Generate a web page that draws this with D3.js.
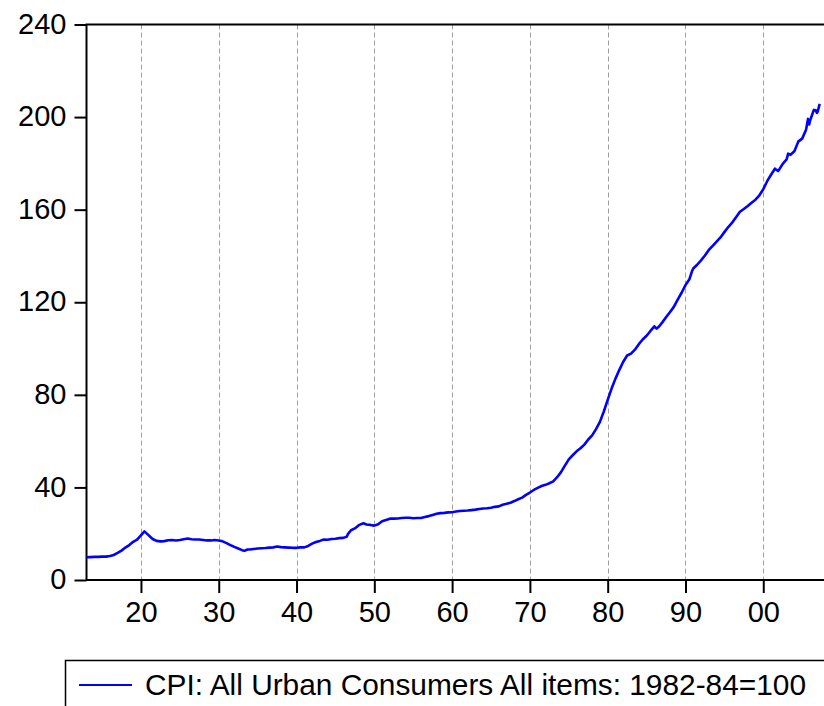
<!DOCTYPE html>
<html>
<head>
<meta charset="utf-8">
<script src="https://cdn.jsdelivr.net/npm/d3@7"></script>
<style>
  body { margin: 0; background: #fff; }
  svg { display: block; }
  text { font-family: "Liberation Sans", Arial, sans-serif; fill: #000; }
</style>
</head>
<body>
<div id="chart"></div>
<script>

// data (CPI-U, 1982-84=100)
var years = [
  1913.0, 1913.5, 1914.0, 1914.5, 1915.0, 1915.5, 1916.0, 1916.5, 1917.0, 1917.5,
  1918.0, 1918.5, 1919.0, 1919.5, 1920.0, 1920.45, 1920.9, 1921.5, 1922.0, 1922.5,
  1923.0, 1923.5, 1924.0, 1924.5, 1925.0, 1925.5, 1926.0, 1926.5, 1927.0, 1927.5,
  1928.0, 1928.5, 1929.0, 1929.5, 1930.0, 1930.5, 1931.0, 1931.5, 1932.0, 1932.5,
  1933.0, 1933.3, 1933.7, 1934.0, 1934.5, 1935.0, 1935.5, 1936.0, 1936.5, 1937.0,
  1937.5, 1938.0, 1938.5, 1939.0, 1939.5, 1940.0, 1940.5, 1941.0, 1941.5, 1942.0,
  1942.5, 1943.0, 1943.5, 1944.0, 1944.5, 1945.0, 1945.5, 1946.0, 1946.45, 1946.6,
  1947.0, 1947.5, 1948.0, 1948.6, 1949.0, 1949.5, 1950.0, 1950.5, 1951.0, 1951.5,
  1952.0, 1952.5, 1953.0, 1953.5, 1954.0, 1954.5, 1955.0, 1955.5, 1956.0, 1956.5,
  1957.0, 1957.5, 1958.0, 1958.5, 1959.0, 1959.5, 1960.0, 1960.5, 1961.0, 1961.5,
  1962.0, 1962.5, 1963.0, 1963.5, 1964.0, 1964.5, 1965.0, 1965.5, 1966.0, 1966.5,
  1967.0, 1967.5, 1968.0, 1968.5, 1969.0, 1969.5, 1970.0, 1970.5, 1971.0, 1971.5,
  1972.0, 1972.5, 1973.0, 1973.5, 1974.0, 1974.5, 1975.0, 1975.5, 1976.0, 1976.5,
  1977.0, 1977.5, 1978.0, 1978.5, 1979.0, 1979.5, 1980.0, 1980.5, 1981.0, 1981.5,
  1982.0, 1982.5, 1983.0, 1983.5, 1984.0, 1984.5, 1985.0, 1985.5, 1986.0, 1986.3,
  1986.6, 1987.0, 1987.5, 1988.0, 1988.5, 1989.0, 1989.5, 1990.0, 1990.5, 1990.85,
  1991.0, 1991.5, 1992.0, 1992.5, 1993.0, 1993.5, 1994.0, 1994.5, 1995.0, 1995.5,
  1996.0, 1996.5, 1997.0, 1997.5, 1998.0, 1998.5, 1999.0, 1999.5, 2000.0, 2000.5,
  2001.0, 2001.5, 2001.9, 2002.0, 2002.5, 2003.0, 2003.2, 2003.5, 2004.0, 2004.5,
  2005.0, 2005.5, 2005.75, 2005.9, 2006.0, 2006.5, 2006.75, 2006.9, 2007.0, 2007.25
];
var cpi = [
  9.8, 9.9, 10.0, 10.0, 10.1, 10.1, 10.4, 10.8, 11.7, 12.7,
  14.0, 15.1, 16.5, 17.4, 19.3, 21.0, 19.6, 17.7, 16.9, 16.7,
  16.8, 17.2, 17.3, 17.1, 17.3, 17.6, 17.9, 17.6, 17.5, 17.5,
  17.3, 17.1, 17.1, 17.3, 17.1, 16.7, 15.9, 15.1, 14.3, 13.6,
  12.9, 12.6, 13.2, 13.2, 13.4, 13.6, 13.7, 13.8, 14.0, 14.1,
  14.5, 14.2, 14.1, 14.0, 13.9, 13.9, 14.1, 14.1, 14.7, 15.7,
  16.4, 16.9, 17.5, 17.4, 17.7, 17.8, 18.1, 18.2, 18.7, 19.8,
  21.5, 22.3, 23.7, 24.5, 24.0, 23.8, 23.5, 24.1, 25.4, 25.9,
  26.5, 26.5, 26.6, 26.8, 26.9, 26.9, 26.7, 26.8, 26.8, 27.2,
  27.6, 28.1, 28.6, 28.9, 29.0, 29.2, 29.3, 29.6, 29.8, 29.9,
  30.0, 30.2, 30.4, 30.7, 30.9, 31.0, 31.2, 31.6, 31.8, 32.5,
  32.9, 33.4, 34.1, 34.9, 35.6, 36.8, 37.8, 38.9, 39.8, 40.6,
  41.1, 41.8, 42.6, 44.4, 46.6, 49.4, 52.1, 53.9, 55.6, 56.9,
  58.5, 60.7, 62.5, 65.2, 68.3, 72.8, 77.8, 82.7, 87.0, 90.8,
  94.3, 97.0, 97.8, 99.5, 101.9, 103.9, 105.5, 107.6, 109.6, 108.6,
  109.5, 111.2, 113.5, 115.7, 118.0, 121.1, 124.1, 127.4, 129.9, 133.5,
  134.6, 136.2, 138.1, 140.2, 142.6, 144.4, 146.2, 148.0, 150.3, 152.5,
  154.4, 156.7, 159.1, 160.3, 161.6, 163.0, 164.3, 166.2, 168.8, 172.3,
  175.1, 177.7, 176.7, 177.1, 179.8, 181.7, 184.2, 183.7, 185.2, 189.4,
  190.7, 194.5, 199.2, 196.8, 198.3, 203.1, 202.9, 201.8, 202.4, 205.7
];

// axis ticks
var xTicks = [1920, 1930, 1940, 1950, 1960, 1970, 1980, 1990, 2000];
var yTicks = [0, 40, 80, 120, 160, 200, 240];
var legendLabel = "CPI: All Urban Consumers  All items: 1982-84=100";

// svg size
var w_svg = 824;
var h_svg = 706;

// plot box (pl = left, pr = right, pt = top, pb = bottom)
var pl = 86.5, pr = 825.5, pt = 24.5, pb = 580;

var svg = d3.select("#chart")
  .append("svg")
    .attr("width", w_svg)
    .attr("height", h_svg);

// scales
var xScale = d3.scaleLinear().domain([1913, 2008]).range([pl, pr]);
var yScale = d3.scaleLinear().domain([0, 240]).range([pb, pt]);

// dashed vertical grid
svg.selectAll(".grid")
  .data(xTicks)
  .enter()
  .append("line")
    .attr("class", "grid")
    .attr("x1", function(d) { return Math.round(xScale(d)) + 0.5; })
    .attr("x2", function(d) { return Math.round(xScale(d)) + 0.5; })
    .attr("y1", pt)
    .attr("y2", pb)
    .attr("stroke", "#a0a0a0")
    .attr("stroke-width", 1)
    .attr("stroke-dasharray", "5,3");

// x-axis
var x_axis = d3.axisBottom(xScale)
  .tickValues(xTicks)
  .tickSize(13)
  .tickPadding(8)
  .tickFormat(function(d) { return String(d).slice(2); });
var gx = svg.append("g")
  .attr("transform", "translate(0," + pb + ")")
  .call(x_axis);

// y-axis
var y_axis = d3.axisLeft(yScale)
  .tickValues(yTicks)
  .tickSize(12)
  .tickPadding(8);
var gy = svg.append("g")
  .attr("transform", "translate(" + pl + ",0)")
  .call(y_axis);

// style both axes
[gx, gy].forEach(function(g) {
  g.select(".domain").remove();
  g.selectAll(".tick line").attr("stroke", "#000").attr("stroke-width", 2);
  g.selectAll(".tick text")
    .style("font-size", "29px")
    .style("font-family", "'Liberation Sans', Arial, sans-serif")
    .attr("fill", "#000");
});
gy.selectAll(".tick text").attr("dy", "0.30em");
gx.selectAll(".tick text").attr("dy", "0.72em");

// frame
svg.append("rect")
  .attr("x", pl)
  .attr("y", pt)
  .attr("width", pr - pl)
  .attr("height", pb - pt)
  .attr("fill", "none")
  .attr("stroke", "#000")
  .attr("stroke-width", 2);

// cpi line
var line = d3.line()
  .x(function(d, i) { return xScale(years[i]); })
  .y(function(d) { return yScale(d); });

svg.append("path")
  .datum(cpi)
  .attr("d", line)
  .attr("fill", "none")
  .attr("stroke", "#0000ff")
  .attr("stroke-width", 2.6)
  .attr("stroke-linejoin", "round");

// legend box (runs past the page edge)
svg.append("rect")
  .attr("x", 65.5)
  .attr("y", 660.5)
  .attr("width", 800)
  .attr("height", 80)
  .attr("fill", "none")
  .attr("stroke", "#000")
  .attr("stroke-width", 1.5);

svg.append("line")
  .attr("x1", 79)
  .attr("x2", 132)
  .attr("y1", 685)
  .attr("y2", 685)
  .attr("stroke", "#0000ff")
  .attr("stroke-width", 2);

svg.append("text")
  .attr("x", 145)
  .attr("y", 695)
  .attr("textLength", 661)
  .attr("lengthAdjust", "spacingAndGlyphs")
  .style("font-size", "29px")
  .text(legendLabel);

</script>
</body>
</html>
